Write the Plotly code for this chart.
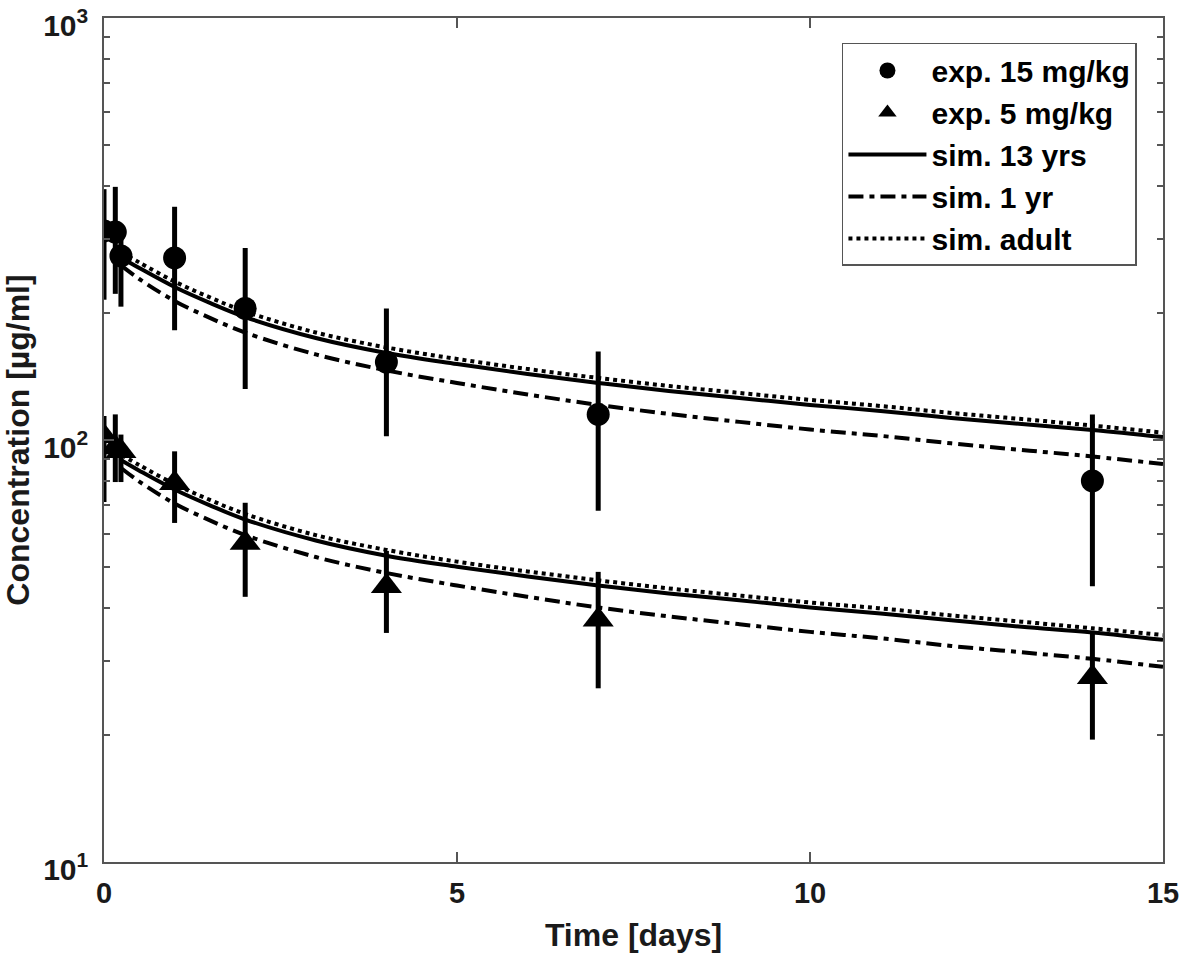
import plotly.graph_objects as go

exp15_t = [0.0, 0.16, 0.24, 1, 2, 4, 7, 14]
exp15_c = [313, 311, 273, 270, 205, 153, 115, 80]
exp15_hi = [393, 398, 316, 357, 285, 205, 162, 115]
exp15_lo = [215, 222, 207, 182, 132, 102, 68, 45]

exp5_t = [0.0, 0.16, 0.24, 1, 2, 4, 7, 14]
exp5_c = [102, 96, 94, 79, 57, 45, 37.5, 27.4]
exp5_hi = [114, 115, 103, 94, 71, 54.6, 48.7, 34.9]
exp5_lo = [71.3, 79.5, 79.5, 63.6, 42.5, 34.9, 25.8, 19.5]

# --- simulated curves ---
sim_t = [0.25, 0.5, 1, 1.5, 2, 3, 4, 5, 6, 7, 8, 9, 10, 11, 12, 13, 14, 15]

sim13_15 = [270.0, 255.6, 230.4, 211.3, 195.6, 174.5, 160.8, 151.4, 143.3,
            136.5, 130.7, 125.8, 121.1, 117.2, 112.8, 109.1, 105.6, 101.6]
sim1_15 = [258.5, 240.7, 213.5, 194.7, 179.7, 159.5, 146.2, 136.5, 128.2,
           121.1, 115.3, 110.4, 105.9, 102.3, 98.2, 94.7, 91.4, 87.7]
simad_15 = [278.2, 263.4, 237.4, 217.7, 201.6, 179.8, 165.7, 155.6, 147.3,
            140.3, 134.3, 129.3, 124.5, 120.4, 115.9, 112.1, 108.2, 104.1]

sim13_5 = [89.4, 84.6, 76.3, 70.0, 64.8, 57.8, 53.2, 50.1, 47.5,
           45.2, 43.3, 41.7, 40.1, 38.8, 37.4, 36.1, 35.0, 33.6]
sim1_5 = [85.6, 79.7, 70.7, 64.5, 59.5, 52.8, 48.4, 45.2, 42.5,
          40.1, 38.2, 36.6, 35.1, 33.9, 32.5, 31.4, 30.3, 29.0]
simad_5 = [92.1, 87.2, 78.6, 72.1, 66.8, 59.5, 54.9, 51.5, 48.8,
           46.5, 44.5, 42.8, 41.2, 39.9, 38.4, 37.1, 35.8, 34.5]

y_tickvals = [10, 100, 1000]
y_ticktext = ["10<sup>1</sup>", "10<sup>2</sup>", "10<sup>3</sup>"]
x_tickvals = [0, 5, 10, 15]

FONT = "Liberation Sans, Arial, sans-serif"
AXIS_COL = "#555555"
DASHDOT = "15px,6px,5px,6px"

fig = go.Figure()

# simulated lines (drawn first, under the markers)
for ys, dash, name, show in [
    (sim13_15, "solid", "sim. 13 yrs", False),
    (sim1_15, DASHDOT, "sim. 1 yr", False),
    (simad_15, "dot", "sim. adult", False),
    (sim13_5, "solid", "sim. 13 yrs", True),
    (sim1_5, DASHDOT, "sim. 1 yr", True),
    (simad_5, "dot", "sim. adult", True),
]:
    fig.add_trace(go.Scatter(
        x=sim_t, y=ys, mode="lines", name=name, showlegend=show,
        line=dict(color="black", width=4, dash=dash, shape="spline", smoothing=1),
        legendrank={"sim. 13 yrs": 3, "sim. 1 yr": 4, "sim. adult": 5}[name],
    ))

# experimental data with error bars
fig.add_trace(go.Scatter(
    x=exp15_t, y=exp15_c, mode="markers", name="exp. 15 mg/kg", legendrank=1,
    marker=dict(symbol="circle", size=23, color="black"),
    error_y=dict(type="data", symmetric=False,
                 array=[h - c for h, c in zip(exp15_hi, exp15_c)],
                 arrayminus=[c - l for c, l in zip(exp15_c, exp15_lo)],
                 color="black", thickness=5, width=0),
))
fig.add_trace(go.Scatter(
    x=exp5_t, y=exp5_c, mode="markers", name="exp. 5 mg/kg", legendrank=2,
    marker=dict(symbol="triangle-up", size=27, color="black"),
    error_y=dict(type="data", symmetric=False,
                 array=[h - c for h, c in zip(exp5_hi, exp5_c)],
                 arrayminus=[c - l for c, l in zip(exp5_c, exp5_lo)],
                 color="black", thickness=5, width=0),
))

fig.update_layout(
    width=1181, height=957,
    margin=dict(l=104, r=18, t=18, b=95),
    plot_bgcolor="white", paper_bgcolor="white",
    font=dict(family=FONT, color="#1a1a1a", size=28, weight="bold"),
    legend=dict(
        x=0.9754, y=0.9704, xanchor="right", yanchor="top",
        bgcolor="white", bordercolor=AXIS_COL, borderwidth=1.5,
        font=dict(family=FONT, size=30, color="black", weight="bold"),
        itemwidth=78, tracegroupgap=0,
        traceorder="normal",
    ),
)

fig.update_xaxes(
    range=[0, 15], tickvals=x_tickvals, automargin=False,
    showline=True, linecolor=AXIS_COL, linewidth=1.5, mirror="ticks",
    ticks="inside", ticklen=10, tickcolor=AXIS_COL, tickwidth=1.5,
    showgrid=False, zeroline=False, ticklabelstandoff=4,
    ticklabeloverflow="allow",
    tickfont=dict(family=FONT, size=29, weight="bold"),
    title=dict(text="Time [days]", font=dict(family=FONT, size=32, weight="bold"),
               standoff=16),
)

fig.update_yaxes(
    type="log", range=[1, 3], tickvals=y_tickvals, ticktext=y_ticktext,
    automargin=False,
    showline=True, linecolor=AXIS_COL, linewidth=1.5, mirror="ticks",
    ticks="inside", ticklen=10, tickcolor=AXIS_COL, tickwidth=1.5,
    showgrid=False, zeroline=False, ticklabelstandoff=8, ticklabelshift=7,
    ticklabeloverflow="allow",
    minor=dict(ticks="inside", ticklen=6, tickcolor=AXIS_COL, tickwidth=1.5,
               tickvals=[m * d for d in (10, 100) for m in range(2, 10)],
               showgrid=False),
    tickfont=dict(family=FONT, size=30, weight="bold"),
    title=dict(text="Concentration [µg/ml]", font=dict(family=FONT, size=32, weight="bold"),
               standoff=13),
)

fig.write_html("out.html", config={"displayModeBar": False},
               post_script="document.body.style.margin='0';")
